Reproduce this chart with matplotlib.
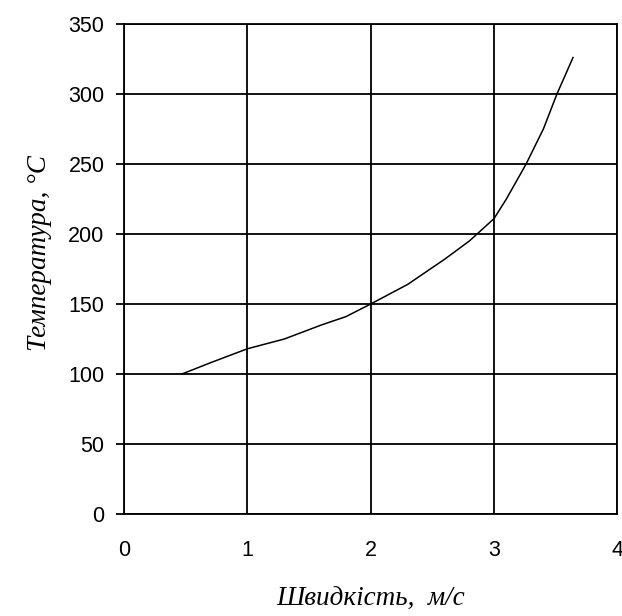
import matplotlib.pyplot as plt

# Швидкість, м/с та температура, °C
speed = [0.47, 0.7, 1.0, 1.3, 1.6, 1.8, 2.0, 2.3, 2.6, 2.8, 3.0, 3.1, 3.26, 3.4, 3.51, 3.64]
temp = [100, 108, 118, 125, 135, 141, 150, 164, 182, 195, 211, 225, 250, 275, 300, 326]

x_ticks = [0, 1, 2, 3, 4]
y_ticks = [0, 50, 100, 150, 200, 250, 300, 350]

fig = plt.figure(figsize=(6.22, 6.16), dpi=100)
ax = fig.add_axes([0.1994, 0.1656, 0.7932, 0.7955])

ax.plot(speed, temp, color='black', linewidth=1.1)

ax.set_xlim(0, 4)
ax.set_ylim(0, 350)
ax.set_xticks(x_ticks)
ax.set_yticks(y_ticks)
ax.grid(True, color='black', linewidth=1.3)
for s in ax.spines.values():
    s.set_color('black')
    s.set_linewidth(1.3)

ax.tick_params(axis='y', length=6, width=1.3, pad=8, labelsize=15.5)
ax.tick_params(axis='x', length=0, pad=19, labelsize=15.5)
for lab in ax.get_xticklabels() + ax.get_yticklabels():
    lab.set_family('Liberation Sans')

ax.set_xlabel('Швидкість,  м/с', family='Liberation Serif', style='italic',
              fontsize=19.5)
ax.set_ylabel('Температура, °С', family='Liberation Serif', style='italic',
              fontsize=19.5)
ax.xaxis.set_label_coords(0.5, -0.148)
ax.yaxis.set_label_coords(-0.147, 0.533)

plt.savefig('out.png', dpi=100)
